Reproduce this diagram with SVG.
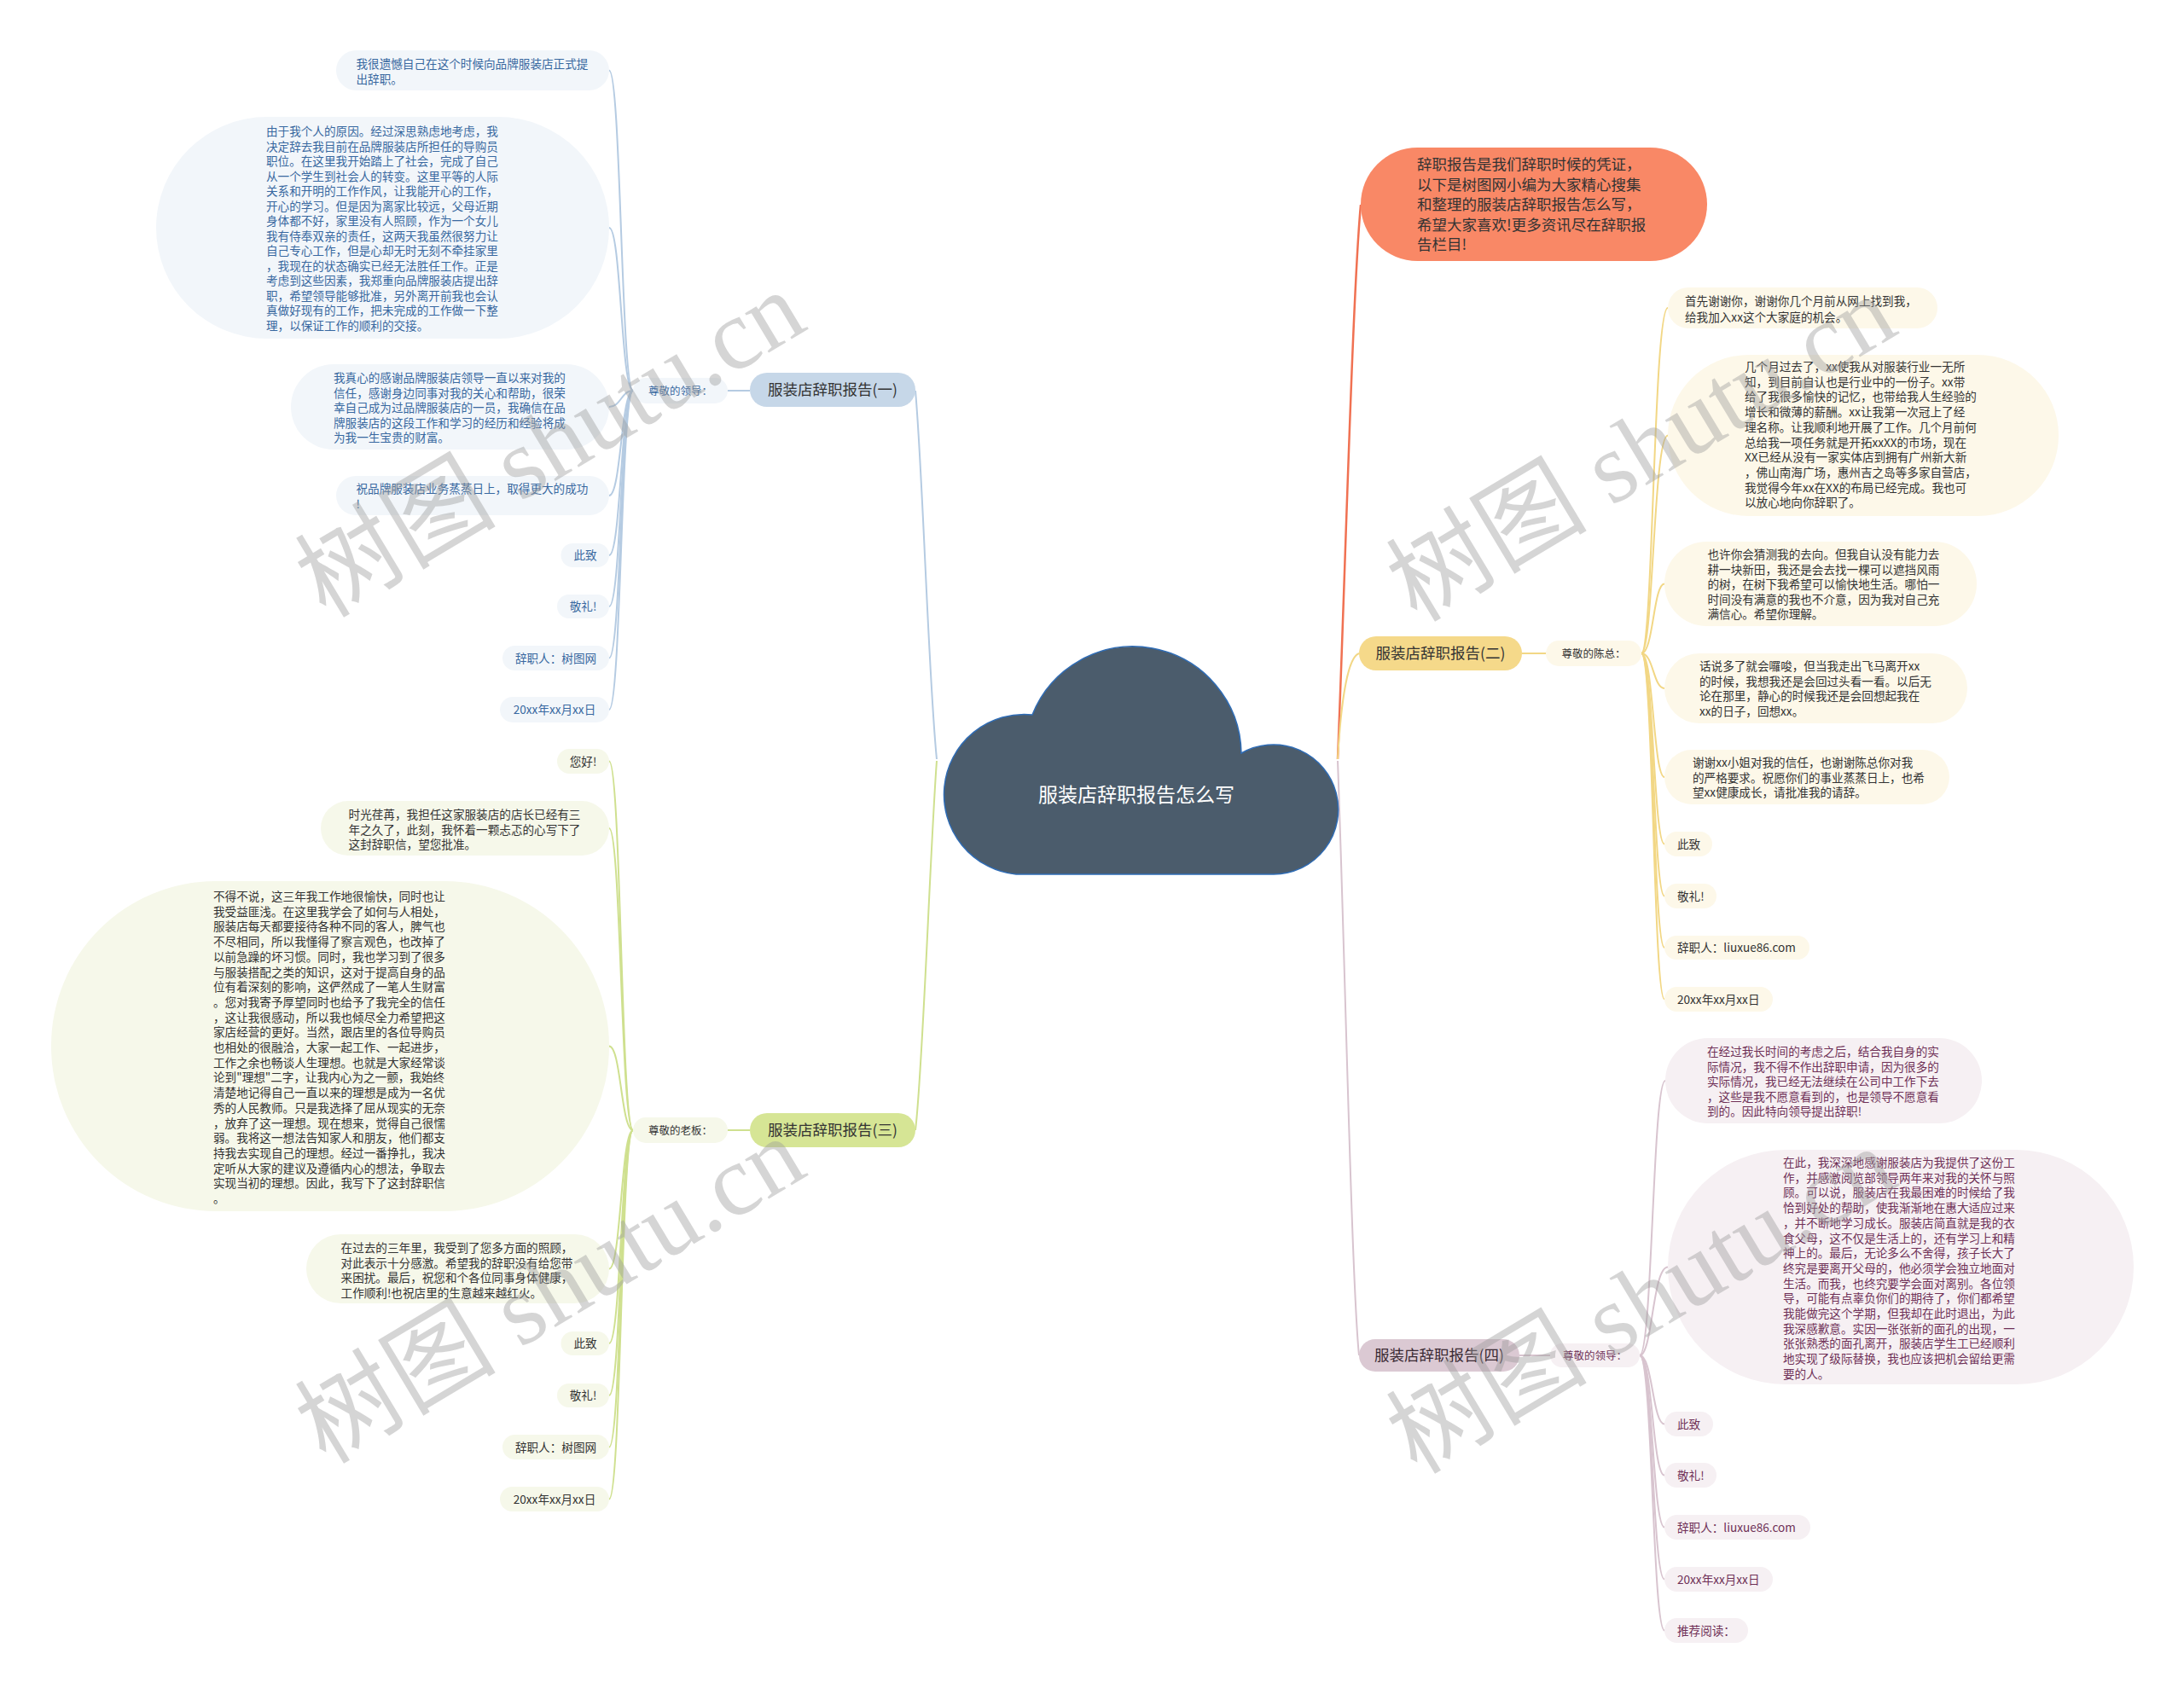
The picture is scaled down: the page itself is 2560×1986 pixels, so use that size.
<svg xmlns="http://www.w3.org/2000/svg" width="2560" height="1986" viewBox="0 0 2560 1986">
<style>
text{font-family:"Noto Sans CJK SC","Microsoft YaHei",sans-serif;}
.lf{font-size:13.6px;}
.sub{font-size:12.5px;}
.main{font-size:17.5px;fill:#333;text-anchor:middle;}
.mid{text-anchor:middle;}
.cb{fill:none;stroke:#b5cbe2;stroke-width:2;}
.cg{fill:none;stroke:#cfe08f;stroke-width:2;}
.cy{fill:none;stroke:#f2d785;stroke-width:2;}
.cm{fill:none;stroke:#d8c4cf;stroke-width:2;}
.co{fill:none;stroke:#f07152;stroke-width:2.5;}
.bL{fill:#f2f6fa;} .bT{fill:#3868a0;} .bM{fill:#c6d7e8;}
.gL{fill:#f6f8ea;} .gT{fill:#333;} .gM{fill:#d6e595;}
.yL{fill:#fdf8e9;} .yT{fill:#333;} .yM{fill:#f5d98a;}
.mL{fill:#f6f0f3;} .mT{fill:#6f3057;} .mM{fill:#dbc9d3;}
.wm{font-family:"Liberation Serif","Noto Sans CJK SC",serif;font-size:118px;fill:#9a9a9a;fill-opacity:0.42;text-anchor:middle;}
</style>

<g id="connectors">
  <!-- cloud to main nodes -->
  <path class="cb" d="M1098,890 C1088,790 1082,560 1073,458"/>
  <path class="cg" d="M1098,892 C1090,1000 1082,1250 1073,1325"/>
  <path class="co" d="M1568,890 C1576,700 1585,350 1595,240"/>
  <path class="cy" d="M1568,890 C1572,820 1580,770 1593,766"/>
  <path class="cm" d="M1568,892 C1576,1100 1584,1500 1593,1589"/>
  <!-- main to sub -->
  <path class="cb" d="M853,458 L879,458"/>
  <path class="cg" d="M853,1325 L879,1325"/>
  <path class="cy" d="M1784,766 L1812,766"/>
  <path class="cm" d="M1781,1589 L1817,1589"/>
  <!-- blue fan -->
  <path class="cb" d="M742,458 C728,458 728,82.5 714,82.5"/>
  <path class="cb" d="M742,458 C728,458 728,267 714,267"/>
  <path class="cb" d="M742,458 C728,458 728,477 714,477"/>
  <path class="cb" d="M742,458 C728,458 728,581 714,581"/>
  <path class="cb" d="M742,458 C728,458 728,651 714,651"/>
  <path class="cb" d="M742,458 C728,458 728,711 714,711"/>
  <path class="cb" d="M742,458 C728,458 728,771.5 714,771.5"/>
  <path class="cb" d="M742,458 C728,458 728,832 714,832"/>
  <!-- green fan -->
  <path class="cg" d="M742,1325 C728,1325 728,892.5 714,892.5"/>
  <path class="cg" d="M742,1325 C728,1325 728,971 714,971"/>
  <path class="cg" d="M742,1325 C728,1325 728,1226.5 714,1226.5"/>
  <path class="cg" d="M742,1325 C728,1325 728,1487.5 714,1487.5"/>
  <path class="cg" d="M742,1325 C728,1325 728,1575 714,1575"/>
  <path class="cg" d="M742,1325 C728,1325 728,1636 714,1636"/>
  <path class="cg" d="M742,1325 C728,1325 728,1696.5 714,1696.5"/>
  <path class="cg" d="M742,1325 C728,1325 728,1757.5 714,1757.5"/>
  <!-- yellow fan -->
  <path class="cy" d="M1924,766 C1938,766 1938,361 1955,361"/>
  <path class="cy" d="M1924,766 C1938,766 1938,510.5 1955,510.5"/>
  <path class="cy" d="M1924,766 C1938,766 1938,684.5 1951,684.5"/>
  <path class="cy" d="M1924,766 C1938,766 1938,807 1951,807"/>
  <path class="cy" d="M1924,766 C1938,766 1938,911 1951,911"/>
  <path class="cy" d="M1924,766 C1938,766 1938,989.5 1951,989.5"/>
  <path class="cy" d="M1924,766 C1938,766 1938,1050.5 1951,1050.5"/>
  <path class="cy" d="M1924,766 C1938,766 1938,1111 1951,1111"/>
  <path class="cy" d="M1924,766 C1938,766 1938,1171.5 1951,1171.5"/>
  <!-- mauve fan -->
  <path class="cm" d="M1922,1589 C1937,1589 1937,1267 1952,1267"/>
  <path class="cm" d="M1922,1589 C1937,1589 1937,1485.5 1955,1485.5"/>
  <path class="cm" d="M1922,1589 C1937,1589 1937,1669.5 1951,1669.5"/>
  <path class="cm" d="M1922,1589 C1937,1589 1937,1729.5 1951,1729.5"/>
  <path class="cm" d="M1922,1589 C1937,1589 1937,1790.5 1951,1790.5"/>
  <path class="cm" d="M1922,1589 C1937,1589 1937,1851.5 1951,1851.5"/>
  <path class="cm" d="M1922,1589 C1937,1589 1937,1911.5 1951,1911.5"/>
</g>

<g id="root">
  <path d="M1191,1025 A93,93 0 1 1 1210,838 A127,127 0 0 1 1455,883 A76,76 0 1 1 1493,1025 Z" fill="#4b5c6c" stroke="#2f6cb5" stroke-width="1.5"/>
  <text x="1332" y="940" font-size="23" fill="#fff" text-anchor="middle">服装店辞职报告怎么写</text>
</g>

<g id="intro">
  <rect x="1595" y="173" width="406" height="133" rx="66.5" fill="#f98866"/>
  <text font-size="17.5" fill="#333">
    <tspan x="1661" y="199.3">辞职报告是我们辞职时候的凭证，</tspan>
    <tspan x="1661" y="222.8">以下是树图网小编为大家精心搜集</tspan>
    <tspan x="1661" y="246.3">和整理的服装店辞职报告怎么写，</tspan>
    <tspan x="1661" y="269.8">希望大家喜欢!更多资讯尽在辞职报</tspan>
    <tspan x="1661" y="293.3">告栏目!</tspan>
  </text>
</g>

<!-- ===== Branch 1 (blue) ===== -->
<g id="b1-main"><rect class="bM" x="879" y="437" width="194" height="40" rx="20"/><text class="main" x="976" y="463.3">服装店辞职报告(一)</text></g>
<g id="b1-sub"><rect class="bL" x="742" y="443" width="111" height="30" rx="15"/><text class="sub bT mid" x="797.5" y="462.5">尊敬的领导：</text></g>
<g id="b1-l1"><rect class="bL" x="394" y="59" width="320" height="47" rx="23.5"/>
  <text class="lf bT"><tspan x="417.5" y="80">我很遗憾自己在这个时候向品牌服装店正式提</tspan><tspan x="417.5" y="98">出辞职。</tspan></text></g>
<g id="b1-l2"><rect class="bL" x="183" y="137" width="531" height="260" rx="130"/>
  <text class="lf bT">
    <tspan x="312" y="159">由于我个人的原因。经过深思熟虑地考虑，我</tspan>
    <tspan x="312" y="176.5">决定辞去我目前在品牌服装店所担任的导购员</tspan>
    <tspan x="312" y="194">职位。在这里我开始踏上了社会，完成了自己</tspan>
    <tspan x="312" y="211.5">从一个学生到社会人的转变。这里平等的人际</tspan>
    <tspan x="312" y="229">关系和开明的工作作风，让我能开心的工作，</tspan>
    <tspan x="312" y="246.5">开心的学习。但是因为离家比较远，父母近期</tspan>
    <tspan x="312" y="264">身体都不好，家里没有人照顾，作为一个女儿</tspan>
    <tspan x="312" y="281.5">我有侍奉双亲的责任，这两天我虽然很努力让</tspan>
    <tspan x="312" y="299">自己专心工作，但是心却无时无刻不牵挂家里</tspan>
    <tspan x="312" y="316.5">，我现在的状态确实已经无法胜任工作。正是</tspan>
    <tspan x="312" y="334">考虑到这些因素，我郑重向品牌服装店提出辞</tspan>
    <tspan x="312" y="351.5">职，希望领导能够批准，另外离开前我也会认</tspan>
    <tspan x="312" y="369">真做好现有的工作，把未完成的工作做一下整</tspan>
    <tspan x="312" y="386.5">理，以保证工作的顺利的交接。</tspan>
  </text></g>
<g id="b1-l3"><rect class="bL" x="341" y="427" width="373" height="100" rx="50"/>
  <text class="lf bT">
    <tspan x="391" y="448">我真心的感谢品牌服装店领导一直以来对我的</tspan>
    <tspan x="391" y="465.6">信任，感谢身边同事对我的关心和帮助，很荣</tspan>
    <tspan x="391" y="483.2">幸自己成为过品牌服装店的一员，我确信在品</tspan>
    <tspan x="391" y="500.8">牌服装店的这段工作和学习的经历和经验将成</tspan>
    <tspan x="391" y="518.4">为我一生宝贵的财富。</tspan>
  </text></g>
<g id="b1-l4"><rect class="bL" x="394" y="558" width="320" height="46" rx="23"/>
  <text class="lf bT"><tspan x="417.5" y="578">祝品牌服装店业务蒸蒸日上，取得更大的成功</tspan><tspan x="417.5" y="596">!</tspan></text></g>
<g id="b1-l5"><rect class="bL" x="657.5" y="637" width="56.5" height="28" rx="14"/><text class="lf bT mid" x="686" y="656">此致</text></g>
<g id="b1-l6"><rect class="bL" x="653" y="697" width="61" height="28" rx="14"/><text class="lf bT mid" x="683.5" y="716">敬礼!</text></g>
<g id="b1-l7"><rect class="bL" x="589" y="757" width="125" height="29" rx="14.5"/><text class="lf bT mid" x="651.5" y="776.5">辞职人：树图网</text></g>
<g id="b1-l8"><rect class="bL" x="586" y="817" width="128" height="30" rx="15"/><text class="lf bT mid" x="650" y="837">20xx年xx月xx日</text></g>

<!-- ===== Branch 3 (green) ===== -->
<g id="b3-main"><rect class="gM" x="879" y="1305" width="194" height="40" rx="20"/><text class="main" x="976" y="1331.3">服装店辞职报告(三)</text></g>
<g id="b3-sub"><rect class="gL" x="742" y="1310" width="111" height="30" rx="15"/><text class="sub gT mid" x="797.5" y="1329.5">尊敬的老板：</text></g>
<g id="b3-l1"><rect class="gL" x="653" y="878" width="61" height="29" rx="14.5"/><text class="lf gT mid" x="683.5" y="897.5">您好!</text></g>
<g id="b3-l2"><rect class="gL" x="376" y="939" width="338" height="64" rx="32"/>
  <text class="lf gT">
    <tspan x="408.6" y="960">时光荏苒，我担任这家服装店的店长已经有三</tspan>
    <tspan x="408.6" y="977.7">年之久了，此刻，我怀着一颗忐忑的心写下了</tspan>
    <tspan x="408.6" y="995.4">这封辞职信，望您批准。</tspan>
  </text></g>
<g id="b3-l3"><rect class="gL" x="60" y="1033" width="654" height="387" rx="193"/>
  <text class="lf gT">
    <tspan x="250" y="1056">不得不说，这三年我工作地很愉快，同时也让</tspan>
    <tspan x="250" y="1073.7">我受益匪浅。在这里我学会了如何与人相处，</tspan>
    <tspan x="250" y="1091.4">服装店每天都要接待各种不同的客人，脾气也</tspan>
    <tspan x="250" y="1109.1">不尽相同，所以我懂得了察言观色，也改掉了</tspan>
    <tspan x="250" y="1126.8">以前急躁的坏习惯。同时，我也学习到了很多</tspan>
    <tspan x="250" y="1144.5">与服装搭配之类的知识，这对于提高自身的品</tspan>
    <tspan x="250" y="1162.2">位有着深刻的影响，这俨然成了一笔人生财富</tspan>
    <tspan x="250" y="1179.9">。您对我寄予厚望同时也给予了我完全的信任</tspan>
    <tspan x="250" y="1197.6">，这让我很感动，所以我也倾尽全力希望把这</tspan>
    <tspan x="250" y="1215.3">家店经营的更好。当然，跟店里的各位导购员</tspan>
    <tspan x="250" y="1233">也相处的很融洽，大家一起工作、一起进步，</tspan>
    <tspan x="250" y="1250.7">工作之余也畅谈人生理想。也就是大家经常谈</tspan>
    <tspan x="250" y="1268.4">论到"理想"二字，让我内心为之一颤，我始终</tspan>
    <tspan x="250" y="1286.1">清楚地记得自己一直以来的理想是成为一名优</tspan>
    <tspan x="250" y="1303.8">秀的人民教师。只是我选择了屈从现实的无奈</tspan>
    <tspan x="250" y="1321.5">，放弃了这一理想。现在想来，觉得自己很懦</tspan>
    <tspan x="250" y="1339.2">弱。我将这一想法告知家人和朋友，他们都支</tspan>
    <tspan x="250" y="1356.9">持我去实现自己的理想。经过一番挣扎，我决</tspan>
    <tspan x="250" y="1374.6">定听从大家的建议及遵循内心的想法，争取去</tspan>
    <tspan x="250" y="1392.3">实现当初的理想。因此，我写下了这封辞职信</tspan>
    <tspan x="250" y="1410">。</tspan>
  </text></g>
<g id="b3-l4"><rect class="gL" x="359" y="1447" width="355" height="81" rx="40.5"/>
  <text class="lf gT">
    <tspan x="399.6" y="1468">在过去的三年里，我受到了您多方面的照顾，</tspan>
    <tspan x="399.6" y="1485.7">对此表示十分感激。希望我的辞职没有给您带</tspan>
    <tspan x="399.6" y="1503.4">来困扰。最后，祝您和个各位同事身体健康，</tspan>
    <tspan x="399.6" y="1521">工作顺利!也祝店里的生意越来越红火。</tspan>
  </text></g>
<g id="b3-l5"><rect class="gL" x="657.5" y="1561" width="56.5" height="28" rx="14"/><text class="lf gT mid" x="686" y="1580">此致</text></g>
<g id="b3-l6"><rect class="gL" x="653" y="1622" width="61" height="28" rx="14"/><text class="lf gT mid" x="683.5" y="1641">敬礼!</text></g>
<g id="b3-l7"><rect class="gL" x="589" y="1682" width="125" height="29" rx="14.5"/><text class="lf gT mid" x="651.5" y="1701.5">辞职人：树图网</text></g>
<g id="b3-l8"><rect class="gL" x="586" y="1743" width="128" height="29" rx="14.5"/><text class="lf gT mid" x="650" y="1762.5">20xx年xx月xx日</text></g>

<!-- ===== Branch 2 (yellow) ===== -->
<g id="b2-main"><rect class="yM" x="1593" y="746" width="191" height="40" rx="20"/><text class="main" x="1688.5" y="772.3">服装店辞职报告(二)</text></g>
<g id="b2-sub"><rect class="yL" x="1812" y="751" width="112" height="30" rx="15"/><text class="sub yT mid" x="1868" y="770.5">尊敬的陈总：</text></g>
<g id="b2-l1"><rect class="yL" x="1955" y="337" width="316" height="48" rx="24"/>
  <text class="lf yT"><tspan x="1975" y="358">首先谢谢你，谢谢你几个月前从网上找到我，</tspan><tspan x="1975" y="377">给我加入xx这个大家庭的机会。</tspan></text></g>
<g id="b2-l2"><rect class="yL" x="1955" y="416" width="458" height="189" rx="94.5"/>
  <text class="lf yT">
    <tspan x="2045" y="435">几个月过去了，xx使我从对服装行业一无所</tspan>
    <tspan x="2045" y="452.7">知，到目前自认也是行业中的一份子。xx带</tspan>
    <tspan x="2045" y="470.4">给了我很多愉快的记忆，也带给我人生经验的</tspan>
    <tspan x="2045" y="488.1">增长和微薄的薪酬。xx让我第一次冠上了经</tspan>
    <tspan x="2045" y="505.8">理名称。让我顺利地开展了工作。几个月前何</tspan>
    <tspan x="2045" y="523.5">总给我一项任务就是开拓xxXX的市场，现在</tspan>
    <tspan x="2045" y="541.2">XX已经从没有一家实体店到拥有广州新大新</tspan>
    <tspan x="2045" y="558.9">，佛山南海广场，惠州吉之岛等多家自营店，</tspan>
    <tspan x="2045" y="576.6">我觉得今年xx在XX的布局已经完成。我也可</tspan>
    <tspan x="2045" y="594.3">以放心地向你辞职了。</tspan>
  </text></g>
<g id="b2-l3"><rect class="yL" x="1951" y="635" width="366" height="99" rx="49.5"/>
  <text class="lf yT">
    <tspan x="2001.5" y="655">也许你会猜测我的去向。但我自认没有能力去</tspan>
    <tspan x="2001.5" y="672.6">耕一块新田，我还是会去找一棵可以遮挡风雨</tspan>
    <tspan x="2001.5" y="690.2">的树，在树下我希望可以愉快地生活。哪怕一</tspan>
    <tspan x="2001.5" y="707.8">时间没有满意的我也不介意，因为我对自己充</tspan>
    <tspan x="2001.5" y="725.4">满信心。希望你理解。</tspan>
  </text></g>
<g id="b2-l4"><rect class="yL" x="1951" y="766" width="355" height="82" rx="41"/>
  <text class="lf yT">
    <tspan x="1992" y="786">话说多了就会囉唆，但当我走出飞马离开xx</tspan>
    <tspan x="1992" y="803.7">的时候，我想我还是会回过头看一看。以后无</tspan>
    <tspan x="1992" y="821.4">论在那里，静心的时候我还是会回想起我在</tspan>
    <tspan x="1992" y="839">xx的日子，回想xx。</tspan>
  </text></g>
<g id="b2-l5"><rect class="yL" x="1951" y="879" width="334" height="64" rx="32"/>
  <text class="lf yT">
    <tspan x="1984" y="899">谢谢xx小姐对我的信任，也谢谢陈总你对我</tspan>
    <tspan x="1984" y="916.7">的严格要求。祝愿你们的事业蒸蒸日上，也希</tspan>
    <tspan x="1984" y="934.4">望xx健康成长，请批准我的请辞。</tspan>
  </text></g>
<g id="b2-l6"><rect class="yL" x="1951" y="975" width="56" height="29" rx="14.5"/><text class="lf yT" x="1966" y="995">此致</text></g>
<g id="b2-l7"><rect class="yL" x="1951" y="1036" width="61" height="29" rx="14.5"/><text class="lf yT" x="1966" y="1055.5">敬礼!</text></g>
<g id="b2-l8"><rect class="yL" x="1951" y="1097" width="170" height="28" rx="14"/><text class="lf yT" x="1966" y="1116">辞职人：liuxue86.com</text></g>
<g id="b2-l9"><rect class="yL" x="1951" y="1157" width="127" height="29" rx="14.5"/><text class="lf yT" x="1966" y="1176.5">20xx年xx月xx日</text></g>

<!-- ===== Branch 4 (mauve) ===== -->
<g id="b4-main"><rect class="mM" x="1593" y="1570" width="188" height="38" rx="19"/><text class="main" x="1687" y="1595.3" style="fill:#3a2a33">服装店辞职报告(四)</text></g>
<g id="b4-sub"><rect class="mL" x="1817" y="1575" width="105" height="28" rx="14"/><text class="sub mT mid" x="1869.5" y="1593.5">尊敬的领导：</text></g>
<g id="b4-l1"><rect class="mL" x="1952" y="1217" width="371" height="100" rx="50"/>
  <text class="lf mT">
    <tspan x="2001" y="1238">在经过我长时间的考虑之后，结合我自身的实</tspan>
    <tspan x="2001" y="1255.6">际情况，我不得不作出辞职申请，因为很多的</tspan>
    <tspan x="2001" y="1273.2">实际情况，我已经无法继续在公司中工作下去</tspan>
    <tspan x="2001" y="1290.8">，这些是我不愿意看到的，也是领导不愿意看</tspan>
    <tspan x="2001" y="1308.4">到的。因此特向领导提出辞职!</tspan>
  </text></g>
<g id="b4-l2"><rect class="mL" x="1955" y="1348" width="546" height="275" rx="137.5"/>
  <text class="lf mT">
    <tspan x="2090" y="1368">在此，我深深地感谢服装店为我提供了这份工</tspan>
    <tspan x="2090" y="1385.7">作，并感激阅览部领导两年来对我的关怀与照</tspan>
    <tspan x="2090" y="1403.4">顾。可以说，服装店在我最困难的时候给了我</tspan>
    <tspan x="2090" y="1421.1">恰到好处的帮助，使我渐渐地在惠大适应过来</tspan>
    <tspan x="2090" y="1438.8">，并不断地学习成长。服装店简直就是我的衣</tspan>
    <tspan x="2090" y="1456.5">食父母，这不仅是生活上的，还有学习上和精</tspan>
    <tspan x="2090" y="1474.2">神上的。最后，无论多么不舍得，孩子长大了</tspan>
    <tspan x="2090" y="1491.9">终究是要离开父母的，他必须学会独立地面对</tspan>
    <tspan x="2090" y="1509.6">生活。而我，也终究要学会面对离别。各位领</tspan>
    <tspan x="2090" y="1527.3">导，可能有点辜负你们的期待了，你们都希望</tspan>
    <tspan x="2090" y="1545">我能做完这个学期，但我却在此时退出，为此</tspan>
    <tspan x="2090" y="1562.7">我深感歉意。实因一张张新的面孔的出现，一</tspan>
    <tspan x="2090" y="1580.4">张张熟悉的面孔离开，服装店学生工已经顺利</tspan>
    <tspan x="2090" y="1598.1">地实现了级际替换，我也应该把机会留给更需</tspan>
    <tspan x="2090" y="1615.8">要的人。</tspan>
  </text></g>
<g id="b4-l3"><rect class="mL" x="1951" y="1655" width="57" height="29" rx="14.5"/><text class="lf mT" x="1966" y="1674.5">此致</text></g>
<g id="b4-l4"><rect class="mL" x="1951" y="1715" width="61" height="29" rx="14.5"/><text class="lf mT" x="1966" y="1734.5">敬礼!</text></g>
<g id="b4-l5"><rect class="mL" x="1951" y="1776" width="171" height="29" rx="14.5"/><text class="lf mT" x="1966" y="1795.5">辞职人：liuxue86.com</text></g>
<g id="b4-l6"><rect class="mL" x="1951" y="1837" width="127" height="29" rx="14.5"/><text class="lf mT" x="1966" y="1856.5">20xx年xx月xx日</text></g>
<g id="b4-l7"><rect class="mL" x="1951" y="1897" width="98" height="29" rx="14.5"/><text class="lf mT" x="1966" y="1916.5">推荐阅读：</text></g>

<g id="watermark">
  <text class="wm" x="648" y="560" transform="rotate(-31 648 526)">树图 shutu.cn</text>
  <text class="wm" x="648" y="1552" transform="rotate(-31 648 1518)">树图 shutu.cn</text>
  <text class="wm" x="1927" y="565" transform="rotate(-31 1927 531)">树图 shutu.cn</text>
  <text class="wm" x="1927" y="1564" transform="rotate(-31 1927 1530)">树图 shutu.cn</text>
</g>
</svg>
